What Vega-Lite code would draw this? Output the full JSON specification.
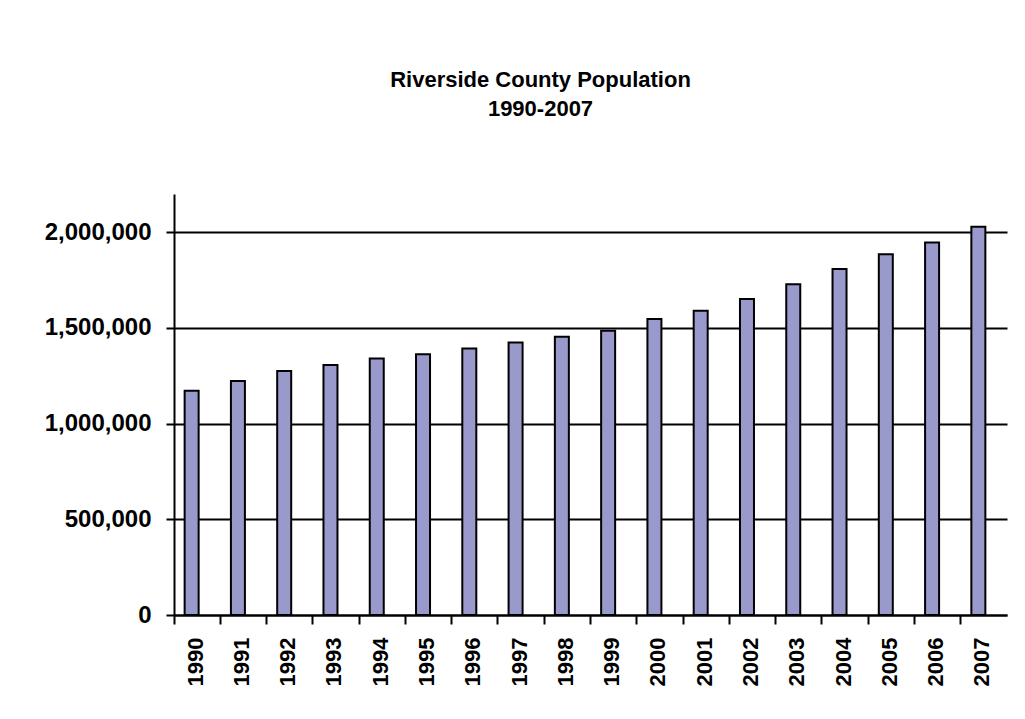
{
  "$schema": "https://vega.github.io/schema/vega-lite/v6.json",
  "autosize": {"type": "none"},
  "width": 833,
  "height": 421,
  "padding": {"left": 174, "top": 194, "right": 18, "bottom": 104},
  "background": "white",
  "title": {
    "text": ["Riverside County Population", "1990-2007"],
    "font": "Liberation Sans",
    "fontSize": 22,
    "fontWeight": "bold",
    "color": "black",
    "anchor": "middle",
    "dx": -50,
    "baseline": "bottom",
    "lineHeight": 29,
    "offset": 51
  },
  "config": {
    "view": {"stroke": null}
  },
  "data": {
    "values": [
      {"year": "1990", "population": 1172000},
      {"year": "1991", "population": 1223000},
      {"year": "1992", "population": 1275000},
      {"year": "1993", "population": 1306000},
      {"year": "1994", "population": 1341000},
      {"year": "1995", "population": 1362000},
      {"year": "1996", "population": 1392000},
      {"year": "1997", "population": 1424000},
      {"year": "1998", "population": 1454000},
      {"year": "1999", "population": 1485000},
      {"year": "2000", "population": 1547000},
      {"year": "2001", "population": 1590000},
      {"year": "2002", "population": 1651000},
      {"year": "2003", "population": 1728000},
      {"year": "2004", "population": 1808000},
      {"year": "2005", "population": 1885000},
      {"year": "2006", "population": 1946000},
      {"year": "2007", "population": 2029000}
    ]
  },
  "mark": {"type": "bar", "width": 14, "xOffset": -5.5, "fill": "#9999cc", "stroke": "black", "strokeWidth": 2},
  "encoding": {
    "x": {
      "field": "year",
      "type": "ordinal",
      "scale": {"paddingInner": 0, "paddingOuter": 0},
      "axis": {
        "title": null,
        "labelAngle": -90,
        "bandPosition": 0,
        "labelOffset": -1.5,
        "tickSize": 9,
        "labelPadding": 13,
        "labelFont": "Liberation Sans",
        "labelFontSize": 22,
        "labelFontWeight": "bold",
        "labelColor": "black",
        "domainColor": "black",
        "domainWidth": 2,
        "tickColor": "black",
        "tickWidth": 2
      }
    },
    "y": {
      "field": "population",
      "type": "quantitative",
      "scale": {"domain": [0, 2200000], "nice": false, "zero": true},
      "axis": {
        "title": null,
        "values": [0, 500000, 1000000, 1500000, 2000000],
        "format": ",d",
        "grid": true,
        "gridColor": "black",
        "gridWidth": 2,
        "tickSize": 8,
        "labelPadding": 15,
        "labelFont": "Liberation Sans",
        "labelFontSize": 24,
        "labelFontWeight": "bold",
        "labelColor": "black",
        "domainColor": "black",
        "domainWidth": 2,
        "tickColor": "black",
        "tickWidth": 2
      }
    }
  }
}
